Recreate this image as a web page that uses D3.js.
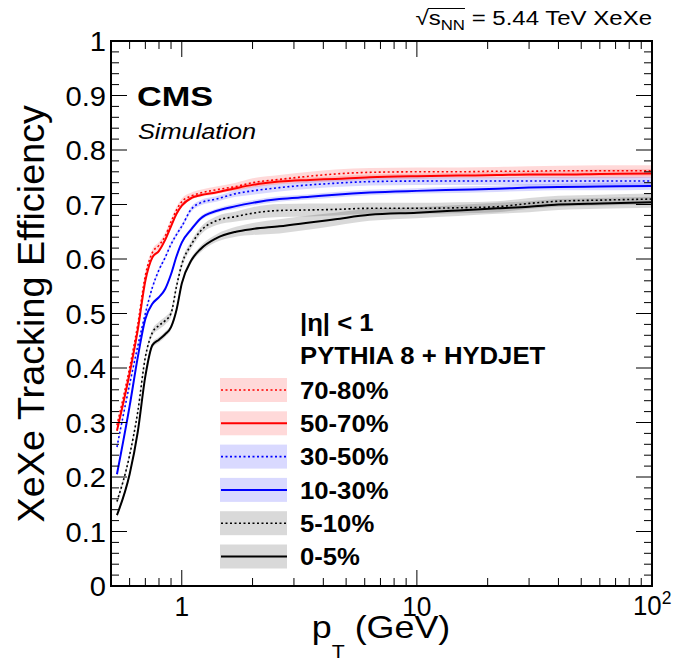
<!DOCTYPE html>
<html>
<head>
<meta charset="utf-8">
<script src="https://cdn.jsdelivr.net/npm/d3@7"></script>
<style>
  body { margin: 0; background: #fff; }
  svg { font-family: "Liberation Sans", Arial, sans-serif; }
</style>
</head>
<body>
<svg id="effSVG" width="673" height="666"></svg>
<script>
// pT bin centres (GeV)
const pT = [0.53, 0.6, 0.65, 0.7, 0.75, 0.8, 0.85, 0.9, 0.95, 1.0, 1.1, 1.2, 1.4, 1.7, 2.0, 2.6, 3.5, 4.5, 6.3, 10, 15, 22, 30, 40, 60, 100];

// efficiency per centrality class
const eff_70_80 = [0.295, 0.40, 0.48, 0.57, 0.612, 0.625, 0.642, 0.668, 0.69, 0.705, 0.716, 0.721, 0.727, 0.733, 0.740, 0.746, 0.752, 0.756, 0.759, 0.760, 0.760, 0.761, 0.761, 0.762, 0.762, 0.762];
const eff_50_70 = [0.285, 0.39, 0.47, 0.56, 0.603, 0.615, 0.635, 0.66, 0.683, 0.698, 0.712, 0.717, 0.722, 0.730, 0.736, 0.742, 0.745, 0.747, 0.750, 0.752, 0.753, 0.754, 0.755, 0.755, 0.756, 0.757];
const eff_30_50 = [0.255, 0.37, 0.44, 0.50, 0.548, 0.58, 0.603, 0.627, 0.645, 0.66, 0.692, 0.703, 0.710, 0.720, 0.725, 0.731, 0.736, 0.739, 0.742, 0.743, 0.743, 0.743, 0.743, 0.743, 0.743, 0.743];
const eff_10_30 = [0.205, 0.33, 0.42, 0.49, 0.518, 0.53, 0.545, 0.572, 0.605, 0.63, 0.655, 0.674, 0.688, 0.697, 0.703, 0.710, 0.714, 0.718, 0.722, 0.725, 0.727, 0.729, 0.731, 0.732, 0.733, 0.734];
const eff_5_10 = [0.155, 0.24, 0.32, 0.42, 0.465, 0.478, 0.487, 0.50, 0.55, 0.59, 0.627, 0.651, 0.670, 0.678, 0.684, 0.689, 0.690, 0.691, 0.693, 0.693, 0.694, 0.696, 0.702, 0.706, 0.708, 0.710];
const eff_0_5 = [0.13, 0.205, 0.283, 0.385, 0.442, 0.452, 0.462, 0.475, 0.507, 0.555, 0.598, 0.618, 0.638, 0.650, 0.655, 0.660, 0.667, 0.673, 0.681, 0.685, 0.689, 0.693, 0.696, 0.700, 0.702, 0.704];

// uncertainty half-widths (band)
const err_70_80 = [0.006, 0.006, 0.006, 0.006, 0.006, 0.006, 0.006, 0.006, 0.006, 0.006, 0.006, 0.006, 0.006, 0.007, 0.008, 0.008, 0.008, 0.008, 0.008, 0.008, 0.008, 0.008, 0.009, 0.009, 0.010, 0.010];
const err_50_70 = [0.003, 0.003, 0.003, 0.003, 0.003, 0.003, 0.003, 0.003, 0.003, 0.003, 0.003, 0.003, 0.003, 0.004, 0.005, 0.005, 0.005, 0.005, 0.005, 0.005, 0.005, 0.006, 0.006, 0.007, 0.008, 0.008];
const err_30_50 = [0.004, 0.004, 0.004, 0.004, 0.004, 0.004, 0.004, 0.004, 0.004, 0.004, 0.005, 0.005, 0.005, 0.006, 0.007, 0.007, 0.007, 0.007, 0.007, 0.007, 0.007, 0.007, 0.008, 0.008, 0.008, 0.008];
const err_10_30 = [0.003, 0.003, 0.003, 0.003, 0.003, 0.003, 0.003, 0.003, 0.003, 0.003, 0.004, 0.004, 0.004, 0.005, 0.005, 0.005, 0.005, 0.005, 0.005, 0.005, 0.006, 0.006, 0.006, 0.006, 0.007, 0.007];
const err_5_10 = [0.005, 0.005, 0.005, 0.005, 0.006, 0.007, 0.007, 0.007, 0.007, 0.007, 0.007, 0.007, 0.008, 0.009, 0.011, 0.012, 0.012, 0.011, 0.010, 0.010, 0.010, 0.010, 0.010, 0.010, 0.010, 0.010];
const err_0_5 = [0.004, 0.004, 0.004, 0.004, 0.005, 0.005, 0.005, 0.005, 0.005, 0.005, 0.005, 0.006, 0.007, 0.009, 0.011, 0.013, 0.013, 0.012, 0.011, 0.010, 0.010, 0.010, 0.010, 0.010, 0.010, 0.010];

const labels = ["70-80%", "50-70%", "30-50%", "10-30%", "5-10%", "0-5%"];
const colors = ["#ff0000", "#ff0000", "#0000ff", "#0000ff", "#000000", "#000000"];
const dotted = [true, false, true, false, true, false];

const yTicks = [0, 0.1, 0.2, 0.3, 0.4, 0.5, 0.6, 0.7, 0.8, 0.9, 1];
const yTickLabels = ["0", "0.1", "0.2", "0.3", "0.4", "0.5", "0.6", "0.7", "0.8", "0.9", "1"];

const effs = [eff_70_80, eff_50_70, eff_30_50, eff_10_30, eff_5_10, eff_0_5];
const errs = [err_70_80, err_50_70, err_30_50, err_10_30, err_5_10, err_0_5];
const series = labels.map((l, i) => ({
    label: l, color: colors[i], dotted: dotted[i],
    values: pT.map((p, j) => ({ pt: p, eff: effs[i][j], err: errs[i][j] }))
}));

const svg = d3.select("#effSVG");
const margin = { left: 111, right: 21, top: 41, bottom: 80 };
const width = +svg.attr("width");
const height = +svg.attr("height");
const innerWidth = width - margin.left - margin.right;
const innerHeight = height - margin.top - margin.bottom;

const x = d3.scaleLog().domain([0.5, 100]).range([0, innerWidth]);
const y = d3.scaleLinear().domain([0, 1]).range([innerHeight, 0]);

const g = svg.append("g").attr("transform", "translate(" + margin.left + "," + margin.top + ")");

// widen/narrow a finished text to look like the ROOT Helvetica
function stretch(sel, sx) {
    const len = sel.node().getComputedTextLength();
    sel.attr("textLength", len * sx).attr("lengthAdjust", "spacingAndGlyphs");
    return sel;
}
function txt(parent, tx, ty, size, anchor) {
    return parent.append("text").attr("x", tx).attr("y", ty)
        .attr("font-size", size).attr("text-anchor", anchor || "start");
}

// bands
const area = d3.area()
    .x(d => x(d.pt))
    .y0(d => y(d.eff - d.err))
    .y1(d => y(d.eff + d.err))
    .curve(d3.curveMonotoneX);
const line = d3.line()
    .x(d => x(d.pt))
    .y(d => y(d.eff))
    .curve(d3.curveMonotoneX);

series.forEach(s => {
    g.append("path").datum(s.values)
        .attr("fill", s.color).attr("fill-opacity", 0.15)
        .attr("d", area);
});
series.forEach(s => {
    g.append("path").datum(s.values)
        .attr("fill", "none")
        .attr("stroke", s.color)
        .attr("stroke-width", s.dotted ? 1.6 : 2)
        .attr("stroke-dasharray", s.dotted ? "2,2.5" : null)
        .attr("d", line);
});

// ticks, ROOT style: inside, on all four sides
const minorX = [];
for (const dec of [0.1, 1, 10]) {
    for (let k = 1; k <= 9; k++) {
        const v = +(k * dec).toFixed(3);
        if (v >= 0.5 && v <= 100) minorX.push(v);
    }
}
minorX.push(100);
const majorX = [1, 10, 100];
const ticksG = g.append("g").attr("stroke", "#000").attr("stroke-width", 1);
minorX.forEach(v => {
    const len = majorX.includes(v) ? 16 : 8;
    ticksG.append("line").attr("x1", x(v)).attr("x2", x(v)).attr("y1", innerHeight).attr("y2", innerHeight - len);
    ticksG.append("line").attr("x1", x(v)).attr("x2", x(v)).attr("y1", 0).attr("y2", len);
});
d3.range(0, 51).forEach(i => {
    const v = i / 50;
    const len = i % 5 === 0 ? 16 : 8;
    ticksG.append("line").attr("x1", 0).attr("x2", len).attr("y1", y(v)).attr("y2", y(v));
    ticksG.append("line").attr("x1", innerWidth).attr("x2", innerWidth - len).attr("y1", y(v)).attr("y2", y(v));
});

// frame
g.append("rect")
    .attr("width", innerWidth).attr("height", innerHeight)
    .attr("fill", "none").attr("stroke", "#000").attr("stroke-width", 2);

// tick labels
yTicks.forEach((v, i) => {
    stretch(txt(g, -5, y(v), 28, "end").attr("dy", "0.36em").text(yTickLabels[i]), 1.04);
});
stretch(txt(g, x(1), innerHeight + 30, 28, "middle").text("1"), 0.94);
stretch(txt(g, x(10), innerHeight + 30, 28, "middle").text("10"), 0.94);
const t100 = txt(svg, 633, 615, 28, "start");
t100.append("tspan").text("10");
t100.append("tspan").attr("dy", -11).attr("font-size", 19).text("2");
stretch(t100, 0.92);

// axis titles
const xt = txt(svg, 381, 638, 32, "middle");
xt.append("tspan").text("p");
xt.append("tspan").attr("dy", 20).attr("font-size", 19).text("T");
xt.append("tspan").attr("dy", -20).text(" (GeV)");
stretch(xt, 1.12);

const yt = svg.append("text")
    .attr("transform", "translate(44,105) rotate(-90)")
    .attr("text-anchor", "end").attr("font-size", 36)
    .text("XeXe Tracking Efficiency");
stretch(yt, 1.05);

// top right energy label with sqrt bar over s_NN
const en = txt(svg, 652, 25, 20, "end");
en.append("tspan").text("\u221A");
en.append("tspan").text("s");
en.append("tspan").attr("dy", 5).attr("font-size", 14).text("NN");
en.append("tspan").attr("dy", -5).text(" = 5.44 TeV XeXe");
stretch(en, 1.2);
const enNode = en.node();
const c0 = enNode.getExtentOfChar(0), c3 = enNode.getExtentOfChar(3);
svg.append("line")
    .attr("x1", c0.x + c0.width - 1).attr("x2", c3.x + c3.width)
    .attr("y1", c0.y + 1.5).attr("y2", c0.y + 1.5)
    .attr("stroke", "#000").attr("stroke-width", 1.2);

// CMS labels
stretch(txt(svg, 137, 106, 27).attr("font-weight", "bold").text("CMS"), 1.27);
stretch(txt(svg, 138, 139, 22).attr("font-style", "italic").text("Simulation"), 1.15);

// legend
const leg = svg.append("g").attr("font-weight", "bold");
stretch(txt(leg, 300, 331, 24).text("|\u03B7| < 1"), 1.07);
stretch(txt(leg, 300, 364, 24).text("PYTHIA 8 + HYDJET"), 1.07);
series.forEach((s, i) => {
    const cy = 390 + i * 33.3;
    leg.append("rect").attr("x", 220).attr("y", cy - 12).attr("width", 67).attr("height", 24)
        .attr("fill", s.color).attr("fill-opacity", 0.15);
    leg.append("line").attr("x1", 221).attr("x2", 287).attr("y1", cy).attr("y2", cy)
        .attr("stroke", s.color)
        .attr("stroke-width", s.dotted ? 1.6 : 2)
        .attr("stroke-dasharray", s.dotted ? "2,2.5" : null);
    stretch(txt(leg, 300, cy, 24).attr("dy", "0.36em").text(s.label), 1.07);
});
</script>
</body>
</html>
